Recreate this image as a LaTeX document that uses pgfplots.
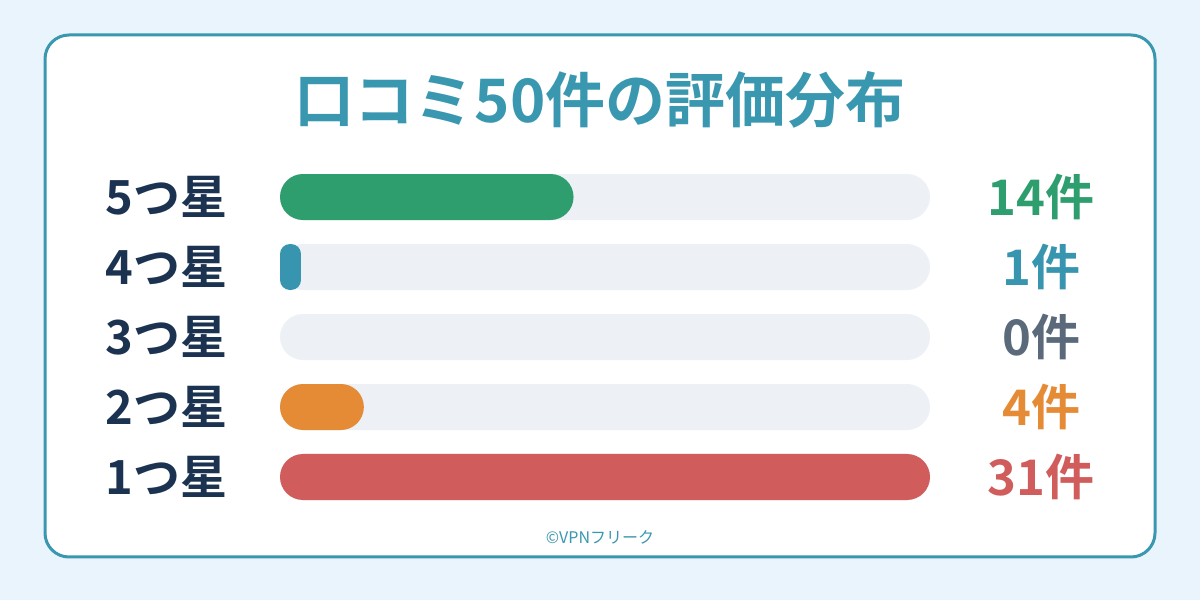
\documentclass[border=0pt]{standalone}
\usepackage{fontspec}
\setmainfont{Noto Sans CJK JP}[BoldFont={Noto Sans CJK JP Bold}]
\usepackage{pgfplots}
\pgfplotsset{compat=1.18}
\definecolor{bgblue}{HTML}{EAF4FC}
\definecolor{frame}{HTML}{3A97B0}
\definecolor{navy}{HTML}{1B3350}
\definecolor{track}{HTML}{EDF1F6}
\definecolor{cfive}{HTML}{2E9E6E}
\definecolor{cfour}{HTML}{3795B0}
\definecolor{cthree}{HTML}{5A6A7A}
\definecolor{ctwo}{HTML}{E58B35}
\definecolor{cone}{HTML}{D05C5C}

\begin{document}
\begin{tikzpicture}
% canvas: 1px = 0.5pt
\fill[bgblue] (0,0) rectangle (600pt,300pt);
\draw[frame, line width=1.5pt, fill=white, rounded corners=12pt] (22.5pt,21.5pt) rectangle (577.5pt,282.5pt);
\node[text=frame, font=\fontsize{30}{34}\selectfont\bfseries] at (300pt,250pt) {口コミ50件の評価分布};
\node[text=frame, font=\fontsize{8}{10}\selectfont] at (300pt,31.5pt) {©VPNフリーク};

\begin{axis}[
    at={(140pt,44pt)}, anchor=south west,
    scale only axis, width=325pt, height=175pt,
    xbar, bar width=23pt, bar shift=0pt,
    xmin=0, xmax=31, ymin=0.5, ymax=5.5,
    enlarge x limits=false, enlarge y limits=false,
    axis line style={draw=none},
    major tick length=0pt,
    xtick=\empty,
    ytick={1,2,3,4,5},
    yticklabels={1つ星,2つ星,3つ星,4つ星,5つ星},
    yticklabel style={font=\fontsize{23.5}{26}\selectfont\bfseries, text=navy, inner sep=0pt, xshift=-26pt},
    clip=false,
]
% grey tracks: full scale (31 reviews)
\addplot[fill=track, draw=none, rounded corners=11.5pt] coordinates {(31,5) (31,4) (31,3) (31,2) (31,1)};
% review counts
\addplot[fill=cfive, draw=none, rounded corners=11.5pt] coordinates {(14,5)};
\addplot[fill=cfour, draw=none, rounded corners=5pt] coordinates {(1,4)};
\addplot[fill=ctwo, draw=none, rounded corners=11.5pt] coordinates {(4,2)};
\addplot[fill=cone, draw=none, rounded corners=11.5pt] coordinates {(31,1)};

\begin{scope}[font=\fontsize{24.5}{27}\selectfont\bfseries]
\node[text=cfive] at (axis cs:36.3,5) {14件};
\node[text=cfour] at (axis cs:36.3,4) {1件};
\node[text=cthree] at (axis cs:36.3,3) {0件};
\node[text=ctwo] at (axis cs:36.3,2) {4件};
\node[text=cone] at (axis cs:36.3,1) {31件};
\end{scope}
\end{axis}
\end{tikzpicture}
\end{document}
